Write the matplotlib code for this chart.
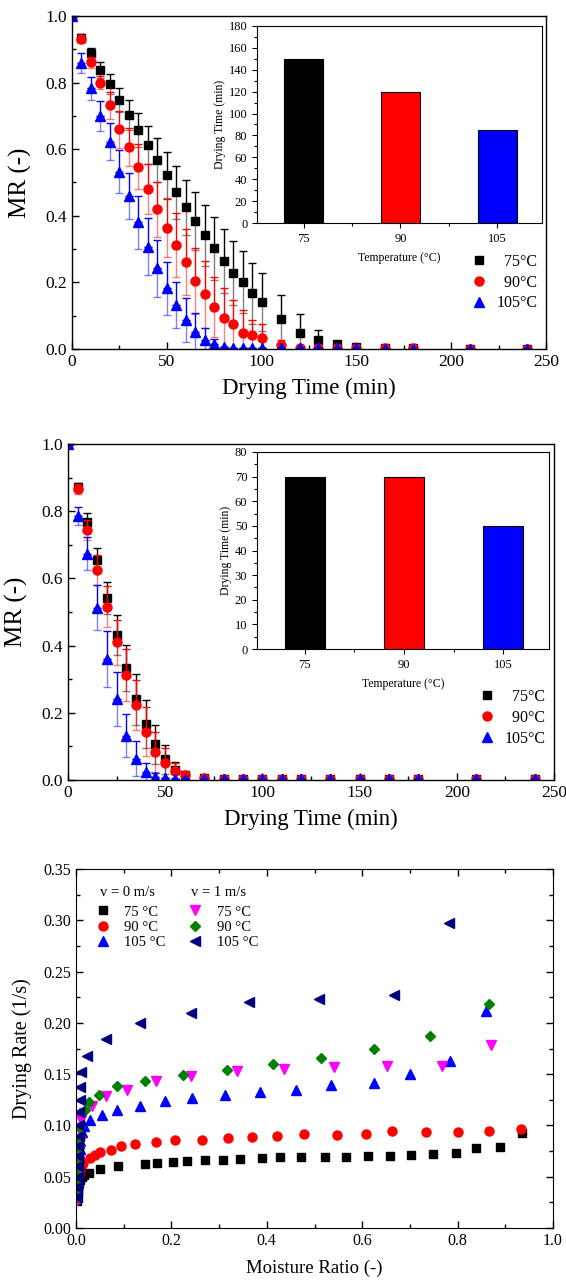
import numpy as np
import matplotlib
matplotlib.use("Agg")
import matplotlib.pyplot as plt
from matplotlib.ticker import MultipleLocator

plt.rcParams['font.family'] = ['Liberation Serif', 'DejaVu Serif']
plt.rcParams['mathtext.fontset'] = 'custom'

# ---------------- Panel 1 data ----------------
t1 = [0, 5, 10, 15, 20, 25, 30, 35, 40, 45, 50, 55, 60, 65, 70, 75, 80, 85, 90, 95, 100,
      110, 120, 130, 140, 150, 165, 180, 210, 240]
mr1_75 = [1.0, 0.935, 0.89, 0.838, 0.795, 0.748, 0.703, 0.658, 0.613, 0.568, 0.523, 0.47,
          0.425, 0.384, 0.341, 0.302, 0.265, 0.229, 0.201, 0.167, 0.141,
          0.089, 0.049, 0.027, 0.014, 0.007, 0.003, 0.002, 0.001, 0.001]
err1_75 = [0, 0.01, 0.015, 0.023, 0.03, 0.037, 0.045, 0.05, 0.057, 0.065, 0.07, 0.08,
           0.083, 0.086, 0.092, 0.095, 0.096, 0.096, 0.094, 0.092, 0.088,
           0.074, 0.056, 0.031, 0.01, 0.005, 0, 0, 0, 0]
mr1_90 = [1.0, 0.93, 0.861, 0.8, 0.732, 0.66, 0.607, 0.548, 0.48, 0.42, 0.362, 0.312,
          0.261, 0.204, 0.164, 0.125, 0.092, 0.074, 0.049, 0.041, 0.032,
          0.012, 0.003, 0.003, 0.002, 0.002, 0.002, 0.002, 0.001, 0.001]
err1_90 = [0, 0.012, 0.017, 0.02, 0.041, 0.055, 0.058, 0.067, 0.076, 0.083, 0.087, 0.095,
           0.098, 0.1, 0.1, 0.09, 0.09, 0.073, 0.068, 0.046, 0.042,
           0.015, 0, 0, 0, 0, 0, 0, 0, 0]
mr1_105 = [1.0, 0.858, 0.783, 0.7, 0.623, 0.533, 0.46, 0.38, 0.307, 0.242, 0.182, 0.132,
           0.087, 0.052, 0.027, 0.015, 0.007, 0.004, 0.003, 0.003, 0.003,
           0.003, 0.002, 0.002, 0.002, 0.002, 0.001, 0.001, 0.001, 0.001]
err1_105 = [0, 0.03, 0.035, 0.045, 0.055, 0.065, 0.07, 0.08, 0.085, 0.085, 0.08, 0.07,
            0.067, 0.055, 0.035, 0.015, 0, 0, 0, 0, 0,
            0, 0, 0, 0, 0, 0, 0, 0, 0]
bar1 = [150, 120, 85]

# ---------------- Panel 2 data ----------------
t2 = [0, 5, 10, 15, 20, 25, 30, 35, 40, 45, 50, 55, 60, 70, 80, 90, 100, 110, 120,
      135, 150, 165, 180, 210, 240]
mr2_75 = [1.0, 0.872, 0.768, 0.655, 0.541, 0.432, 0.333, 0.24, 0.166, 0.106, 0.062, 0.03,
          0.015, 0.005, 0.003, 0.003, 0.003, 0.003, 0.003, 0.003, 0.003, 0.003, 0.003, 0.003, 0.003]
err2_75 = [0, 0.012, 0.027, 0.035, 0.048, 0.06, 0.068, 0.075, 0.072, 0.058, 0.043, 0.025,
           0.01, 0, 0, 0, 0, 0, 0, 0, 0, 0, 0, 0, 0]
mr2_90 = [1.0, 0.866, 0.743, 0.626, 0.516, 0.41, 0.313, 0.223, 0.144, 0.084, 0.05, 0.028,
          0.015, 0.005, 0.003, 0.003, 0.003, 0.003, 0.003, 0.003, 0.003, 0.003, 0.003, 0.003, 0.003]
err2_90 = [0, 0.015, 0.03, 0.045, 0.06, 0.067, 0.077, 0.075, 0.072, 0.06, 0.045, 0.024,
           0.012, 0, 0, 0, 0, 0, 0, 0, 0, 0, 0, 0, 0]
mr2_105 = [1.0, 0.786, 0.673, 0.513, 0.36, 0.24, 0.132, 0.063, 0.023, 0.01, 0.005, 0.004,
           0.004, 0.003, 0.003, 0.003, 0.003, 0.003, 0.003, 0.003, 0.003, 0.003, 0.003, 0.003, 0.003]
err2_105 = [0, 0.026, 0.049, 0.067, 0.082, 0.08, 0.065, 0.052, 0.027, 0.01, 0, 0,
            0, 0, 0, 0, 0, 0, 0, 0, 0, 0, 0, 0, 0]
bar2 = [70, 70, 50]

bar_cats = ['75', '90', '105']
bar_colors = ['#000000', '#FF0000', '#0000FF']
series_labels = ['75°C', '90°C', '105°C']

# ---------------- Panel 3 data ----------------
mr_v0_75 = [0.002, 0.003, 0.004, 0.005, 0.007, 0.009, 0.012, 0.016, 0.028, 0.051, 0.089, 0.144,
            0.17, 0.204, 0.232, 0.27, 0.309, 0.344, 0.39, 0.428, 0.471, 0.522, 0.567, 0.613,
            0.658, 0.703, 0.749, 0.796, 0.839, 0.889, 0.936]
dr_v0_75 = [0.026, 0.031, 0.035, 0.039, 0.043, 0.047, 0.050, 0.052, 0.0536, 0.0575, 0.060, 0.0627,
            0.0633, 0.0643, 0.065, 0.066, 0.0666, 0.0675, 0.068, 0.0688, 0.069, 0.069, 0.069, 0.0698,
            0.0705, 0.071, 0.0724, 0.0734, 0.0776, 0.079, 0.0925]
mr_v0_90 = [0.002, 0.003, 0.004, 0.005, 0.007, 0.009, 0.012, 0.0155, 0.03, 0.04, 0.051, 0.074,
            0.094, 0.123, 0.167, 0.207, 0.265, 0.318, 0.368, 0.422, 0.479, 0.547, 0.608, 0.662,
            0.733, 0.8, 0.865, 0.932]
dr_v0_90 = [0.028, 0.034, 0.040, 0.046, 0.052, 0.057, 0.061, 0.063, 0.068, 0.0714, 0.074, 0.076,
            0.08, 0.082, 0.084, 0.0854, 0.086, 0.0873, 0.089, 0.09, 0.0916, 0.091, 0.0916, 0.0948,
            0.0935, 0.0932, 0.0948, 0.0968]
mr_v0_105 = [0.002, 0.003, 0.004, 0.005, 0.006, 0.007, 0.008, 0.0085, 0.013, 0.0176, 0.03, 0.054,
             0.087, 0.134, 0.187, 0.244, 0.313, 0.385, 0.462, 0.534, 0.625, 0.7, 0.784, 0.86]
dr_v0_105 = [0.03, 0.037, 0.045, 0.053, 0.061, 0.069, 0.077, 0.085, 0.094, 0.099, 0.105, 0.11,
             0.1146, 0.1185, 0.1234, 0.1263, 0.1295, 0.1325, 0.1347, 0.1396, 0.1412, 0.15, 0.1627, 0.2117]
mr_v1_75 = [0.002, 0.003, 0.004, 0.005, 0.006, 0.007, 0.008, 0.009, 0.011, 0.016, 0.033, 0.063,
            0.107, 0.167, 0.242, 0.337, 0.437, 0.54, 0.653, 0.767, 0.87]
dr_v1_75 = [0.027, 0.035, 0.045, 0.055, 0.065, 0.075, 0.085, 0.095, 0.105, 0.112, 0.119, 0.129,
            0.135, 0.143, 0.148, 0.1526, 0.155, 0.157, 0.158, 0.158, 0.178]
mr_v1_90 = [0.002, 0.003, 0.004, 0.005, 0.006, 0.007, 0.008, 0.009, 0.019, 0.028, 0.049, 0.086,
            0.144, 0.225, 0.317, 0.412, 0.514, 0.625, 0.742, 0.865]
dr_v1_90 = [0.03, 0.038, 0.048, 0.058, 0.068, 0.078, 0.088, 0.098, 0.1146, 0.1224, 0.13, 0.138,
            0.1438, 0.149, 0.1536, 0.16, 0.1662, 0.175, 0.1873, 0.2185]
mr_v1_105 = [0.002, 0.003, 0.004, 0.004, 0.005, 0.005, 0.006, 0.006, 0.007, 0.0075, 0.008, 0.01,
             0.024, 0.063, 0.135, 0.241, 0.362, 0.51, 0.667, 0.782]
dr_v1_105 = [0.03, 0.04, 0.05, 0.06, 0.07, 0.08, 0.09, 0.1, 0.113, 0.125, 0.137, 0.152,
             0.168, 0.184, 0.1997, 0.2094, 0.22, 0.2234, 0.2273, 0.2977]

W, H = 566, 1284
fig = plt.figure(figsize=(W / 100, H / 100), dpi=100)


def fr(l, r, t, b):
    return [l / W, 1 - b / H, (r - l) / W, (b - t) / H]


def mr_panel(rect, inset_rect, t, ys, errs, bars, bar_ylim, bar_major, bar_minor, leg_anchor):
    ax = fig.add_axes(fr(*rect))
    markers = ['s', 'o', '^']
    for y, e, c, m, lab in zip(ys, errs, bar_colors, markers, series_labels):
        y = np.array(y); e = np.array(e); z = np.zeros_like(e)
        ax.errorbar(t, y, yerr=[e, z], fmt='none', ecolor=c, elinewidth=1.0,
                    capsize=3, capthick=1.0, alpha=0.5)
        ax.errorbar(t, y, yerr=[z, e], fmt='none', ecolor=c, elinewidth=1.0,
                    capsize=3, capthick=1.0)
        ax.plot(t, y, linestyle='none', marker=m, color=c, markersize=6.5 if m != 's' else 6,
                label=lab)
    ax.set_xlim(0, 250)
    ax.set_ylim(0, 1.0)
    ax.xaxis.set_major_locator(MultipleLocator(50))
    ax.xaxis.set_minor_locator(MultipleLocator(25))
    ax.yaxis.set_major_locator(MultipleLocator(0.2))
    ax.yaxis.set_minor_locator(MultipleLocator(0.1))
    ax.yaxis.set_major_formatter(matplotlib.ticker.FormatStrFormatter('%.1f'))
    ax.tick_params(which='both', direction='in', top=False, right=False, labelsize=12.5, width=1)
    ax.tick_params(which='major', length=5)
    ax.tick_params(which='minor', length=3)
    ax.set_xlabel('Drying Time (min)', fontsize=16.5, labelpad=6)
    ax.set_ylabel('MR (-)', fontsize=18, labelpad=10)
    for s in ax.spines.values():
        s.set_linewidth(1.0)
    h, l = ax.get_legend_handles_labels()
    l = ['  75°C', '  90°C', '105°C']
    ax.legend(h, l, loc='upper right', bbox_to_anchor=leg_anchor, frameon=False,
              fontsize=11.5, handletextpad=0.6, labelspacing=0.3, borderaxespad=0,
              handlelength=1.0)

    ins = fig.add_axes(fr(*inset_rect))
    xpos = np.arange(len(bar_cats))
    ins.bar(xpos, bars, width=0.4, color=bar_colors, edgecolor='black', linewidth=0.8)
    ins.set_xlim(-0.48, 2.46)
    ins.set_ylim(*bar_ylim)
    ins.set_xticks(xpos)
    ins.set_xticklabels(bar_cats)
    ins.set_xticks(xpos[:-1] + 0.5, minor=True)
    ins.yaxis.set_major_locator(MultipleLocator(bar_major))
    ins.yaxis.set_minor_locator(MultipleLocator(bar_minor))
    ins.tick_params(which='both', direction='out', labelsize=9, width=0.8)
    ins.tick_params(which='major', length=3.5)
    ins.tick_params(which='minor', length=2)
    ins.set_xlabel('Temperature (°C)', fontsize=8.5, labelpad=5)
    ins.set_ylabel('Drying Time (min)', fontsize=8.5, labelpad=2)
    for s in ins.spines.values():
        s.set_linewidth(0.8)
    return ax


mr_panel((72, 546, 16, 349), (257, 542, 26, 223), t1,
         [mr1_75, mr1_90, mr1_105], [err1_75, err1_90, err1_105], bar1,
         (0, 180), 20, 10, (0.995, 0.305))
mr_panel((68, 554, 444, 780), (257, 549, 452, 649), t2,
         [mr2_75, mr2_90, mr2_105], [err2_75, err2_90, err2_105], bar2,
         (0, 80), 10, 5, (0.995, 0.29))

# ---------------- Panel 3 ----------------
ax3 = fig.add_axes(fr(76, 553, 869, 1228))
ms = 6.5
h1, = ax3.plot(mr_v0_75, dr_v0_75, 's', color='#000000', markersize=6, linestyle='none')
h2, = ax3.plot(mr_v0_90, dr_v0_90, 'o', color='#FF0000', markersize=ms, linestyle='none')
h3, = ax3.plot(mr_v0_105, dr_v0_105, '^', color='#0000FF', markersize=ms, linestyle='none')
h4, = ax3.plot(mr_v1_75, dr_v1_75, 'v', color='#FF00FF', markersize=ms, linestyle='none')
h5, = ax3.plot(mr_v1_90, dr_v1_90, 'D', color='#008000', markersize=5.5, linestyle='none')
h6, = ax3.plot(mr_v1_105, dr_v1_105, '<', color='#000080', markersize=ms, linestyle='none')
ax3.set_xlim(0, 1.0)
ax3.set_ylim(0, 0.35)
ax3.xaxis.set_major_locator(MultipleLocator(0.2))
ax3.xaxis.set_minor_locator(MultipleLocator(0.1))
ax3.yaxis.set_major_locator(MultipleLocator(0.05))
ax3.yaxis.set_minor_locator(MultipleLocator(0.025))
ax3.xaxis.set_major_formatter(matplotlib.ticker.FormatStrFormatter('%.1f'))
ax3.yaxis.set_major_formatter(matplotlib.ticker.FormatStrFormatter('%.2f'))
ax3.tick_params(which='both', direction='in', top=True, right=True, labelsize=11.5, width=1)
ax3.tick_params(which='major', length=5)
ax3.tick_params(which='minor', length=3)
ax3.set_xlabel('Moisture Ratio (-)', fontsize=13.5, labelpad=8)
ax3.set_ylabel('Drying Rate (1/s)', fontsize=14.5, labelpad=8)
leg3_labels = ['75 °C', '90 °C', '105 °C', '75 °C', '90 °C', '105 °C']
ax3.legend([h1, h2, h3, h4, h5, h6], leg3_labels, ncol=2, loc='upper left',
           bbox_to_anchor=(0.025, 0.915), frameon=False, fontsize=10.5,
           handletextpad=0.9, labelspacing=0.15, columnspacing=1.4, handlelength=1.2,
           borderaxespad=0)
ax3.text(0.05, 0.952, 'v = 0 m/s', transform=ax3.transAxes, fontsize=10.5, va='top', ha='left')
ax3.text(0.242, 0.952, 'v = 1 m/s', transform=ax3.transAxes, fontsize=10.5, va='top', ha='left')

fig.savefig('out.png', dpi=100)
